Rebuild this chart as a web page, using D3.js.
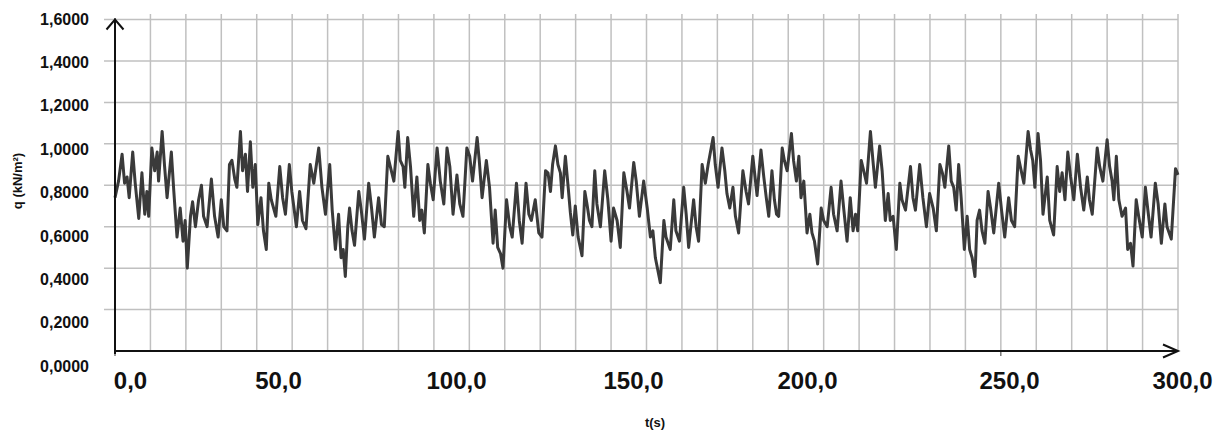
<!DOCTYPE html>
<html><head><meta charset="utf-8">
<script src="https://cdn.jsdelivr.net/npm/d3@7"></script>
<style>
html,body{margin:0;padding:0;background:#fff;}
svg{display:block;font-family:"Liberation Sans",Arial,sans-serif;}
</style></head>
<body>
<svg id="chart" width="1224" height="432"></svg>
<script>
// ---- data: [t (s), q (kN/m²)] ----
const seg1 = [[0,0.74],[1.0,0.82],[2.0,0.95],[2.7,0.81],[3.4,0.84],[4.0,0.74],[5.0,0.96],[5.7,0.81],[6.7,0.64],[7.6,0.86],
[8.4,0.66],[9.0,0.77],[9.5,0.65],[10.4,0.98],[11.2,0.87],[11.9,0.96],[12.3,0.82],[13.3,1.06],[14.0,0.89],[14.7,0.74],
[15.9,0.96],[16.6,0.77],[17.5,0.55],[18.4,0.69],[19.2,0.53],[19.8,0.63],[20.4,0.40],[21.3,0.65],[21.9,0.72],[22.7,0.60],
[23.6,0.73],[24.4,0.80],[25.0,0.65],[26.0,0.60],[27.2,0.83],[28.1,0.65],[29.1,0.55],[30.0,0.73],[30.7,0.60],[31.6,0.58],
[32.3,0.90],[33.0,0.92],[33.8,0.83],[34.4,0.79],[35.4,1.06],[36.0,0.87],[36.8,0.95],[37.4,0.77],[38.2,1.01],[38.9,0.79],
[39.6,0.90],[40.3,0.61],[41.2,0.74],[41.9,0.58],[42.7,0.49],[43.4,0.81],[44.1,0.73],[45.4,0.65],[46.5,0.89],[47.3,0.74],
[48.1,0.66],[49.2,0.90],[49.9,0.77],[51.2,0.60],[52.1,0.77],[52.9,0.63],[53.9,0.59],[55.1,0.90],[56.1,0.81],[57.5,0.98],
[58.4,0.79],[59.4,0.66]];
const seg2 = [[60.6,0.90],[61.3,0.68],[62.2,0.49],[63.1,0.66],[63.8,0.45],[64.4,0.49],[65.0,0.36],[65.7,0.60],[66.2,0.69],[66.9,0.58],
[67.6,0.51],[68.8,0.77],[69.5,0.68],[70.4,0.54],[71.6,0.81],[72.4,0.69],[73.2,0.55],[74.4,0.74],[75.2,0.61],[76.0,0.60],
[77.0,0.94],[77.7,0.89],[78.7,0.82],[79.9,1.06],[80.5,0.92],[81.3,0.89],[81.8,0.79],[82.6,1.03],[83.4,0.89],[84.3,0.65],
[85.2,0.84],[86.0,0.63],[86.6,0.68],[87.3,0.57],[88.3,0.90],[89.0,0.81],[89.8,0.73],[90.9,0.98],[91.8,0.82],[92.8,0.71],
[93.7,0.98],[94.5,0.89],[95.4,0.66],[96.5,0.85],[97.3,0.71],[98.2,0.65],[99.3,0.98],[100.1,0.94],[100.9,0.82],[102.2,1.03],
[102.8,0.92],[103.6,0.74],[104.8,0.92],[105.7,0.79],[106.7,0.52],[107.3,0.68],[108.0,0.50],[108.8,0.47],[109.5,0.40],[110.5,0.73],
[111.4,0.60],[112.1,0.55],[113.3,0.81],[114.1,0.63],[114.9,0.52],[116.0,0.81],[116.8,0.66],[117.5,0.63],[118.6,0.73],[119.6,0.57]];
const seg3 = [[120.5,0.55],[121.5,0.87],[122.2,0.86],[122.9,0.77],[123.5,0.90],[124.3,0.99],[125.0,0.90],[125.7,0.86],[126.2,0.74],[127.1,0.94],
[127.9,0.79],[128.5,0.67],[129.2,0.56],[129.9,0.70],[130.7,0.55],[131.8,0.46],[132.6,0.77],[133.2,0.71],[133.9,0.63],[134.6,0.60],
[135.4,0.87],[136.0,0.71],[137.0,0.60],[138.2,0.87],[139.1,0.73],[140.0,0.53],[140.7,0.69],[141.7,0.63],[142.6,0.50],[143.6,0.86],
[144.5,0.77],[145.2,0.69],[146.4,0.91],[147.1,0.82],[148.0,0.65],[149.2,0.82],[150.2,0.69],[151.1,0.55],[151.8,0.58],[152.5,0.45],
[153.9,0.33],[154.9,0.63],[155.5,0.55],[156.7,0.49],[157.7,0.73],[158.3,0.58],[159.3,0.53],[160.5,0.79],[161.2,0.66],[161.9,0.50],
[163.3,0.73],[164.0,0.60],[164.7,0.53],[165.7,0.90],[166.6,0.81],[167.4,0.90],[168.8,1.03],[169.4,0.90],[170.2,0.79],[171.3,0.98],
[172.1,0.87],[172.7,0.76],[173.5,0.69],[174.4,0.79],[175.1,0.65],[176.0,0.57],[177.2,0.87],[178.1,0.77],[178.8,0.71],[180.0,0.94]];
const seg4 = [[181.2,0.75],[182.3,0.97],[183.1,0.84],[183.8,0.74],[184.5,0.65],[185.4,0.87],[186.1,0.73],[186.7,0.66],[187.3,0.65],[188.3,0.98],
[188.9,0.92],[189.7,0.87],[190.9,1.05],[191.5,0.92],[192.3,0.82],[193.0,0.94],[193.6,0.74],[194.4,0.82],[195.3,0.57],[196.1,0.66],
[196.7,0.57],[197.4,0.53],[198.3,0.42],[199.3,0.69],[200.0,0.63],[201.0,0.60],[202.1,0.79],[202.8,0.66],[203.8,0.58],[204.9,0.82],
[205.7,0.68],[206.6,0.53],[207.5,0.74],[208.3,0.58],[209.0,0.66],[209.6,0.58],[210.6,0.92],[211.3,0.87],[212.1,0.81],[213.2,1.06],
[213.9,0.92],[214.6,0.79],[215.8,0.99],[216.5,0.87],[217.4,0.63],[218.2,0.76],[218.8,0.63],[219.6,0.65],[220.5,0.49],[221.5,0.81],
[222.1,0.73],[223.1,0.68],[224.5,0.89],[225.2,0.74],[225.9,0.68],[227.1,0.90],[228.0,0.74],[229.0,0.60],[229.9,0.76],[230.9,0.69],
[231.8,0.58],[232.8,0.90],[233.5,0.86],[234.2,0.79],[235.3,0.99],[236.0,0.82],[236.7,0.79],[237.4,0.68],[238.1,0.90],[238.8,0.74],
[239.7,0.49],[240.5,0.65],[241.2,0.49]];
const seg5 = [[241.9,0.45],[242.7,0.36],[243.3,0.63],[244.0,0.68],[244.7,0.58],[245.5,0.52],[246.4,0.77],[247.1,0.69],[248.0,0.57],[249.4,0.81],
[250.2,0.68],[251.1,0.55],[252.2,0.74],[253.0,0.63],[253.9,0.60],[254.9,0.94],[255.5,0.89],[256.5,0.81],[257.7,1.06],[258.4,0.97],
[259.0,0.92],[259.6,0.79],[260.5,1.05],[261.2,0.92],[261.9,0.66],[263.1,0.84],[263.8,0.63],[264.9,0.56],[265.9,0.89],[266.6,0.77],
[267.3,0.86],[268.1,0.73],[268.9,0.96],[269.7,0.84],[270.6,0.73],[271.6,0.95],[272.5,0.79],[273.4,0.68],[274.4,0.84],[275.0,0.73],
[275.8,0.66],[277.2,0.98],[277.9,0.89],[278.8,0.82],[280.0,1.02],[280.7,0.89],[281.4,0.82],[281.9,0.73],[282.6,0.94],[283.3,0.73],
[284.2,0.65],[285.2,0.69],[285.8,0.49],[286.6,0.52],[287.3,0.41],[288.2,0.73],[288.9,0.65],[289.9,0.55],[290.8,0.79],[291.5,0.68],
[292.4,0.55],[293.6,0.81],[294.4,0.71],[295.3,0.52],[296.3,0.71],[296.9,0.60],[298.1,0.54],[299.3,0.88],[300.0,0.85]];

const yTicks = [0,0.2,0.4,0.6,0.8,1.0,1.2,1.4,1.6];
const xTickLabels = [0,50,100,150,200,250,300];
const xGrid = d3.range(10,301,10);

const series = [].concat(seg1,seg2,seg3,seg4,seg5);

const svg = d3.select("#chart");
const x = d3.scaleLinear().domain([0,300]).range([115,1178]);
const y = d3.scaleLinear().domain([0,1.6]).range([351,19.5]);
// label positions (the picture's labels are offset from their grid lines)
const yLab = d3.scaleLinear().domain([0,1.6]).range([366,19]);
const xLab = d3.scaleLinear().domain(xTickLabels).range([130,278,456,633,807,1009,1182]);

// grid
const grid = svg.append("g").attr("stroke","#c0c0c0").attr("stroke-width",1.5);
grid.selectAll("line.h").data(yTicks.slice(1)).join("line")
  .attr("x1",104).attr("x2",x(300)).attr("y1",d=>y(d)).attr("y2",d=>y(d));
grid.selectAll("line.v").data(xGrid).join("line")
  .attr("x1",d=>x(d)).attr("x2",d=>x(d)).attr("y1",14).attr("y2",y(0));
// small ticks below x axis
svg.append("g").attr("stroke","#555").attr("stroke-width",1.2)
  .selectAll("line").data([0,250]).join("line")
  .attr("x1",d=>x(d)).attr("x2",d=>x(d)).attr("y1",y(0)).attr("y2",y(0)+5);

// y labels
svg.append("g").attr("transform","translate(89,0)")
  .call(d3.axisLeft(yLab).tickValues(yTicks).tickSize(0).tickPadding(0)
        .tickFormat(d=>d3.format(".4f")(d).replace(".",",")))
  .call(g=>g.select(".domain").remove())
  .selectAll("text").attr("font-size",16).attr("font-weight","bold").attr("fill","#111")
  .attr("font-family","'Liberation Sans',Arial,sans-serif");

// x labels
svg.append("g").attr("transform","translate(0,372)")
  .call(d3.axisBottom(xLab).tickValues(xTickLabels).tickSize(0).tickPadding(0)
        .tickFormat(d=>d3.format(".1f")(d).replace(".",",")))
  .call(g=>g.select(".domain").remove())
  .selectAll("text").attr("font-size",24).attr("font-weight","bold").attr("fill","#111")
  .attr("font-family","'Liberation Sans',Arial,sans-serif");

// line
svg.append("path").datum(series)
  .attr("fill","none").attr("stroke","#3a3a3a").attr("stroke-width",3)
  .attr("stroke-linejoin","round")
  .attr("d",d3.line().x(d=>x(d[0])).y(d=>y(d[1])));

// axes with arrows
const ax = svg.append("g").attr("stroke","#111").attr("stroke-width",2).attr("fill","none");
ax.append("line").attr("x1",x(0)).attr("x2",x(0)).attr("y1",y(0)+3).attr("y2",y(1.6)-1);
ax.append("line").attr("x1",x(0)-1).attr("x2",x(300)).attr("y1",y(0)).attr("y2",y(0));
ax.append("path").attr("d",`M${x(0)-8.5},${y(1.6)+10} L${x(0)},${y(1.6)} L${x(0)+8.5},${y(1.6)+10}`);
ax.append("path").attr("d",`M${x(300)-15},${y(0)-6.5} L${x(300)},${y(0)} L${x(300)-15},${y(0)+6.5}`);

// titles
svg.append("text").attr("transform","translate(22,181) rotate(-90)")
  .attr("text-anchor","middle").attr("font-size",13).attr("font-weight","bold").attr("fill","#111")
  .text("q (kN/m²)");
svg.append("text").attr("x",655).attr("y",427).attr("text-anchor","middle")
  .attr("font-size",13).attr("font-weight","bold").attr("fill","#111").text("t(s)");
</script>
</body></html>
